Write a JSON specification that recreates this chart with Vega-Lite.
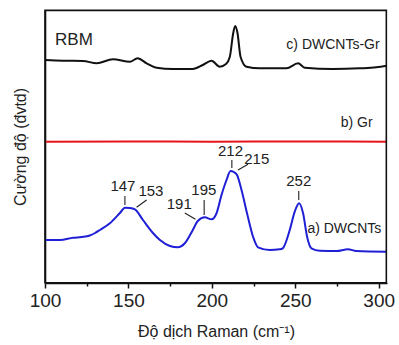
{
  "$schema": "https://vega.github.io/schema/vega-lite/v6.json",
  "width": 342,
  "height": 273,
  "autosize": "none",
  "padding": {"left": 45, "top": 10, "right": 12, "bottom": 62},
  "background": "white",
  "config": {
    "font": "Liberation Sans",
    "view": {"stroke": null}
  },
  "datasets": {
    "frame": [{"x": 100, "x2": 304.6, "y": 0.3, "y2": 272.6}],
    "spectra": [
      {"x": 100, "y": 223, "s": "c"}, {"x": 110.8, "y": 222.3, "s": "c"}, {"x": 122.8, "y": 222, "s": "c"}, {"x": 131.0, "y": 219.7, "s": "c"}, {"x": 140.7, "y": 223.7, "s": "c"}, {"x": 150.9, "y": 221.3, "s": "c"}, {"x": 155.5, "y": 224.7, "s": "c"}, {"x": 160.9, "y": 219.7, "s": "c"}, {"x": 166.9, "y": 215.3, "s": "c"}, {"x": 176.6, "y": 214, "s": "c"}, {"x": 188.6, "y": 214, "s": "c"}, {"x": 194.6, "y": 218, "s": "c"}, {"x": 199.8, "y": 222.3, "s": "c"}, {"x": 204.8, "y": 216.3, "s": "c"}, {"x": 208.5, "y": 219, "s": "c"}, {"x": 210.8, "y": 226.3, "s": "c"}, {"x": 212.8, "y": 249.7, "s": "c"}, {"x": 214.0, "y": 257, "s": "c"}, {"x": 215.4, "y": 249.7, "s": "c"}, {"x": 217.2, "y": 226.3, "s": "c"}, {"x": 220.8, "y": 216.3, "s": "c"}, {"x": 228.7, "y": 214.7, "s": "c"}, {"x": 244.7, "y": 214.7, "s": "c"}, {"x": 251.7, "y": 219.7, "s": "c"}, {"x": 255.7, "y": 215.3, "s": "c"}, {"x": 272.5, "y": 214, "s": "c"}, {"x": 288.6, "y": 214.7, "s": "c"}, {"x": 298.6, "y": 215.7, "s": "c"}, {"x": 305, "y": 217.3, "s": "c"},
      {"x": 100, "y": 141.3, "s": "b"}, {"x": 150, "y": 141.5, "s": "b"}, {"x": 200, "y": 141.3, "s": "b"}, {"x": 250, "y": 141.5, "s": "b"}, {"x": 305, "y": 141.3, "s": "b"},
      {"x": 100, "y": 43, "s": "a"}, {"x": 109, "y": 43, "s": "a"}, {"x": 116.9, "y": 45.3, "s": "a"}, {"x": 122, "y": 46, "s": "a"}, {"x": 126.9, "y": 47.5, "s": "a"}, {"x": 130, "y": 50, "s": "a"}, {"x": 132.9, "y": 53, "s": "a"}, {"x": 138.9, "y": 59.7, "s": "a"}, {"x": 144.9, "y": 70, "s": "a"}, {"x": 147.9, "y": 75.3, "s": "a"}, {"x": 150.9, "y": 75, "s": "a"}, {"x": 153.9, "y": 73.7, "s": "a"}, {"x": 158.7, "y": 63, "s": "a"}, {"x": 164.7, "y": 50, "s": "a"}, {"x": 168.9, "y": 43, "s": "a"}, {"x": 174.9, "y": 37, "s": "a"}, {"x": 179.6, "y": 35.7, "s": "a"}, {"x": 183.8, "y": 39.7, "s": "a"}, {"x": 188.6, "y": 53, "s": "a"}, {"x": 191.6, "y": 62, "s": "a"}, {"x": 195.8, "y": 65.7, "s": "a"}, {"x": 199.8, "y": 63.7, "s": "a"}, {"x": 202.8, "y": 69.7, "s": "a"}, {"x": 205.8, "y": 88, "s": "a"}, {"x": 208.8, "y": 103, "s": "a"}, {"x": 211.2, "y": 112, "s": "a"}, {"x": 213.2, "y": 111, "s": "a"}, {"x": 215.1, "y": 108, "s": "a"}, {"x": 217.8, "y": 93, "s": "a"}, {"x": 221.1, "y": 69.7, "s": "a"}, {"x": 224.7, "y": 46.3, "s": "a"}, {"x": 227.7, "y": 35.7, "s": "a"}, {"x": 234.7, "y": 33, "s": "a"}, {"x": 240.7, "y": 33.7, "s": "a"}, {"x": 242.5, "y": 34.7, "s": "a"}, {"x": 246.7, "y": 53, "s": "a"}, {"x": 249.7, "y": 71.3, "s": "a"}, {"x": 252.3, "y": 79.7, "s": "a"}, {"x": 254.7, "y": 69.7, "s": "a"}, {"x": 257.1, "y": 46.3, "s": "a"}, {"x": 259.7, "y": 34.7, "s": "a"}, {"x": 264.7, "y": 32.3, "s": "a"}, {"x": 274.7, "y": 32, "s": "a"}, {"x": 281.6, "y": 33.7, "s": "a"}, {"x": 286.6, "y": 32, "s": "a"}, {"x": 304.6, "y": 31.3, "s": "a"}
    ],
    "peaks": [
      {"x": 146.7, "y": 97, "t": "147"},
      {"x": 163.5, "y": 92, "t": "153"},
      {"x": 180.5, "y": 78.7, "t": "191"},
      {"x": 195.2, "y": 93, "t": "195"},
      {"x": 211.2, "y": 132.3, "t": "212"},
      {"x": 226.9, "y": 124, "t": "215"},
      {"x": 252.1, "y": 102, "t": "252"}
    ],
    "leaders": [
      {"x": 147.9, "y": 87, "x2": 147.9, "y2": 78},
      {"x": 154.9, "y": 75.7, "x2": 160.9, "y2": 83},
      {"x": 183.8, "y": 70, "x2": 190.2, "y2": 63.7},
      {"x": 195.4, "y": 83, "x2": 195.4, "y2": 68},
      {"x": 212.0, "y": 123, "x2": 212.0, "y2": 115},
      {"x": 215.7, "y": 113, "x2": 221.7, "y2": 118.7},
      {"x": 252.1, "y": 92, "x2": 252.1, "y2": 83}
    ],
    "leftLabels": [
      {"x": 106, "y": 243, "t": "RBM"},
      {"x": 257.3, "y": 54, "t": "a) DWCNTs"}
    ],
    "rightLabels": [
      {"x": 300.6, "y": 238, "t": "c) DWCNTs-Gr"},
      {"x": 296.4, "y": 159.7, "t": "b) Gr"}
    ]
  },
  "layer": [
    {
      "data": {"name": "spectra"},
      "mark": {"type": "line", "strokeWidth": 2, "interpolate": "monotone", "clip": true},
      "encoding": {
        "x": {
          "field": "x", "type": "quantitative",
          "scale": {"domain": [100, 305], "nice": false, "zero": false},
          "axis": {
            "values": [100, 125, 150, 175, 200, 225, 250, 275, 300],
            "labelExpr": "datum.value % 50 === 0 ? datum.label : ''",
            "tickSize": {"condition": {"test": "datum.value % 50 === 0", "value": 5}, "value": 3},
            "tickColor": "#111", "tickWidth": 1.5,
            "domainColor": "#111", "domainWidth": 1.6,
            "labelFontSize": 19, "labelColor": "#222", "labelPadding": 3, "labelFont": "Liberation Sans",
            "labelFlush": false,
            "grid": false,
            "title": "Độ dịch Raman (cm⁻¹)",
            "titleFontSize": 16, "titleFontWeight": "normal", "titleColor": "#222", "titlePadding": 13, "titleFont": "Liberation Sans"
          }
        },
        "y": {
          "field": "y", "type": "quantitative",
          "scale": {"domain": [0, 273], "nice": false, "zero": false},
          "axis": {
            "labels": false, "ticks": false, "grid": false, "domain": true, "domainColor": "#111", "domainWidth": 1.6,
            "title": "Cường độ (đvtd)",
            "titleFontSize": 16, "titleFontWeight": "normal", "titleColor": "#222", "titlePadding": 17, "titleFont": "Liberation Sans"
          }
        },
        "color": {
          "field": "s", "type": "nominal",
          "scale": {"domain": ["a", "b", "c"], "range": ["#1f1fd6", "#e8141c", "#111111"]},
          "legend": null
        }
      }
    },
    {
      "data": {"name": "frame"},
      "mark": {"type": "rect", "fill": null, "fillOpacity": 0, "stroke": "#111", "strokeWidth": 1.6},
      "encoding": {
        "x": {"field": "x", "type": "quantitative"},
        "x2": {"field": "x2"},
        "y": {"field": "y", "type": "quantitative"},
        "y2": {"field": "y2"}
      }
    },
    {
      "data": {"name": "leaders"},
      "mark": {"type": "rule", "color": "#222", "strokeWidth": 1.1},
      "encoding": {
        "x": {"field": "x", "type": "quantitative"},
        "y": {"field": "y", "type": "quantitative"},
        "x2": {"field": "x2"},
        "y2": {"field": "y2"}
      }
    },
    {
      "data": {"name": "peaks"},
      "mark": {"type": "text", "fontSize": 15, "color": "#222", "align": "center", "baseline": "middle", "font": "Liberation Sans"},
      "encoding": {
        "x": {"field": "x", "type": "quantitative"},
        "y": {"field": "y", "type": "quantitative"},
        "text": {"field": "t"}
      }
    },
    {
      "data": {"name": "leftLabels"},
      "mark": {"type": "text", "color": "#222", "align": "left", "baseline": "middle", "font": "Liberation Sans", "fontSize": 14},
      "encoding": {
        "x": {"field": "x", "type": "quantitative"},
        "y": {"field": "y", "type": "quantitative"},
        "text": {"field": "t"},
        "size": {"condition": {"test": "datum.t === 'RBM'", "value": 17}, "value": 14}
      }
    },
    {
      "data": {"name": "rightLabels"},
      "mark": {"type": "text", "color": "#222", "align": "right", "baseline": "middle", "font": "Liberation Sans", "fontSize": 14},
      "encoding": {
        "x": {"field": "x", "type": "quantitative"},
        "y": {"field": "y", "type": "quantitative"},
        "text": {"field": "t"}
      }
    }
  ]
}
